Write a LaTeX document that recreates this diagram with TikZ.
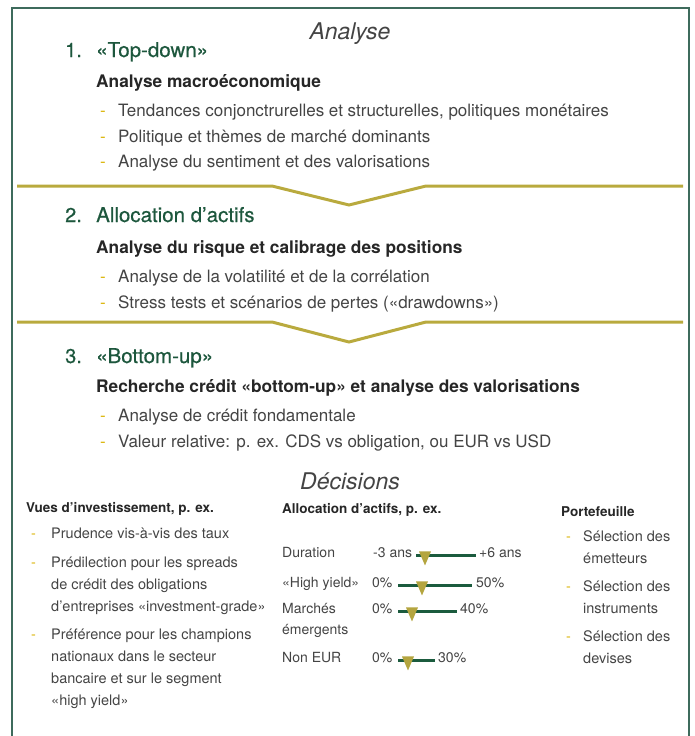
\documentclass[tikz,border=0pt]{standalone}
\usepackage{fontspec}
\setmainfont{TeX Gyre Heros}
\newfontfamily\headfont[FakeBold=0.5]{TeX Gyre Heros}
\usepackage{tikz}
\usetikzlibrary{shapes.geometric}

\definecolor{framegreen}{HTML}{3E6B5C}
\definecolor{headgreen}{HTML}{1D573D}
\definecolor{dashyellow}{HTML}{D9B200}
\definecolor{chevrongold}{HTML}{B9AA3E}
\definecolor{bargreen}{HTML}{1B5B3E}
\definecolor{cursorgold}{HTML}{B4A53F}
\definecolor{bodygray}{HTML}{444444}

\newcommand{\tiret}{\makebox[18pt][l]{\textcolor{dashyellow}{-}}}
% several lines, baseline on the first one
\newcommand{\lignes}[1]{\begin{tabular}[t]{@{}l@{}}#1\end{tabular}}

\begin{document}
\begin{tikzpicture}[x=1pt,y=-1pt,
    title/.style={anchor=base,inner sep=0,text=bodygray,font=\fontsize{23}{27}\selectfont\itshape},
    num/.style={anchor=base west,inner sep=0,text=headgreen,font=\headfont\fontsize{20}{24}\selectfont},
    head/.style={anchor=base west,inner sep=0,text=headgreen,font=\headfont\fontsize{20.5}{25}\selectfont},
    sub/.style={anchor=base west,inner sep=0,text=black!85,font=\fontsize{17.3}{21}\selectfont\bfseries},
    item/.style={anchor=base west,inner sep=0,text=bodygray,font=\fontsize{17}{21}\selectfont},
    small/.style={anchor=base west,inner sep=0,text=bodygray,font=\fontsize{14.5}{22}\selectfont},
    mid/.style={small,font=\fontsize{14}{21}\selectfont},
    smallsub/.style={anchor=base west,inner sep=0,text=black!85,font=\fontsize{13.5}{16}\selectfont\bfseries},
    tiretmark/.style={anchor=base west,inner sep=0,text=dashyellow,font=\fontsize{14.5}{16}\selectfont},
    chevronline/.style={draw=chevrongold,line width=3pt},
    bar/.style={draw=bargreen,line width=3pt},
    cursor/.style={isosceles triangle,isosceles triangle stretches,shape border rotate=270,
      fill=cursorgold,inner sep=0,minimum width=12pt,minimum height=14pt,anchor=apex}]
  \useasboundingbox (0,0) rectangle (694,736);
  % outer frame, open at the bottom
  \draw[framegreen,line width=1.5pt] (12,745) -- (12,8) -- (689,8) -- (689,745);

  % Analyse
  \node[title] (analyse) at (350,39) {Analyse};

  % step 1
  \node[num] (n1) at (65,57) {1.};
  \node[head] (h1) at (96,57) {«Top-down»};
  \node[sub] (s1) at (96,87) {Analyse macroéconomique};
  \node[item] (i11) at (100,116) {\tiret Tendances conjonctrurelles et structurelles, politiques monétaires};
  \node[item] (i12) at (100,142) {\tiret Politique et thèmes de marché dominants};
  \node[item] (i13) at (100,167) {\tiret Analyse du sentiment et des valorisations};
  \draw[chevronline] (17,186) -- (272,186) -- (349,205) -- (426,186) -- (683,186);

  % step 2
  \node[num] (n2) at (65,222) {2.};
  \node[head] (h2) at (96,222) {Allocation d’actifs};
  \node[sub] (s2) at (96,253) {Analyse du risque et calibrage des positions};
  \node[item] (i21) at (100,282) {\tiret Analyse de la volatilité et de la corrélation};
  \node[item] (i22) at (100,308) {\tiret Stress tests et scénarios de pertes («drawdowns»)};
  \draw[chevronline] (17,322) -- (272,322) -- (349,342) -- (426,322) -- (683,322);

  % step 3
  \node[num] (n3) at (65,363) {3.};
  \node[head] (h3) at (96,363) {«Bottom-up»};
  \node[sub] (s3) at (96,392) {Recherche crédit «bottom-up» et analyse des valorisations};
  \node[item] (i31) at (100,421) {\tiret Analyse de crédit fondamentale};
  \node[item] (i32) at (100,447) {\tiret Valeur relative: p. ex. CDS vs obligation, ou EUR vs USD};

  % Decisions
  \node[title] (decisions) at (350,489) {Décisions};

  % left column
  \node[smallsub] (vues) at (26,512) {Vues d’investissement, p. ex.};
  \node[tiretmark] at (31,538) {-};
  \node[small] (v1) at (51,538) {Prudence vis-à-vis des taux};
  \node[tiretmark] at (31,567) {-};
  \node[small] (v2) at (51,567) {\lignes{Prédilection pour les spreads\\de crédit des obligations\\d’entreprises «investment-grade»}};
  \node[tiretmark] at (31,639) {-};
  \node[small] (v3) at (51,639) {\lignes{Préférence pour les champions\\nationaux dans le secteur\\bancaire et sur le segment\\«high yield»}};

  % middle column
  \node[smallsub] (alloc) at (282,513) {Allocation d’actifs, p. ex.};
  \node[mid] (dur) at (282,557) {Duration};
  \node[mid] (dur-lo) at (373,557) {-3 ans};
  \node[mid] (dur-hi) at (479,557) {+6 ans};
  \draw[bar] (416,555) -- (476,555);
  \node[cursor] at (425,566) {};
  \node[mid] (hy) at (282,587) {«High yield»};
  \node[mid] (hy-lo) at (372,587) {0\%};
  \node[mid] (hy-hi) at (476,587) {50\%};
  \draw[bar] (398,585) -- (472,585);
  \node[cursor] at (422,596) {};
  \node[mid] (em) at (282,613) {\lignes{Marchés\\émergents}};
  \node[mid] (em-lo) at (372,613) {0\%};
  \node[mid] (em-hi) at (460,613) {40\%};
  \draw[bar] (398,611) -- (457,611);
  \node[cursor] at (412,622) {};
  \node[mid] (eur) at (282,662) {Non EUR};
  \node[mid] (eur-lo) at (372,662) {0\%};
  \node[mid] (eur-hi) at (438,662) {30\%};
  \draw[bar] (398,660) -- (435,660);
  \node[cursor] at (408,671) {};

  % right column
  \node[smallsub] (porte) at (561,516) {Portefeuille};
  \node[tiretmark] at (566,541) {-};
  \node[small] (p1) at (583,541) {\lignes{Sélection des\\émetteurs}};
  \node[tiretmark] at (566,591) {-};
  \node[small] (p2) at (583,591) {\lignes{Sélection des\\instruments}};
  \node[tiretmark] at (566,641) {-};
  \node[small] (p3) at (583,641) {\lignes{Sélection des\\devises}};
\end{tikzpicture}
\end{document}
